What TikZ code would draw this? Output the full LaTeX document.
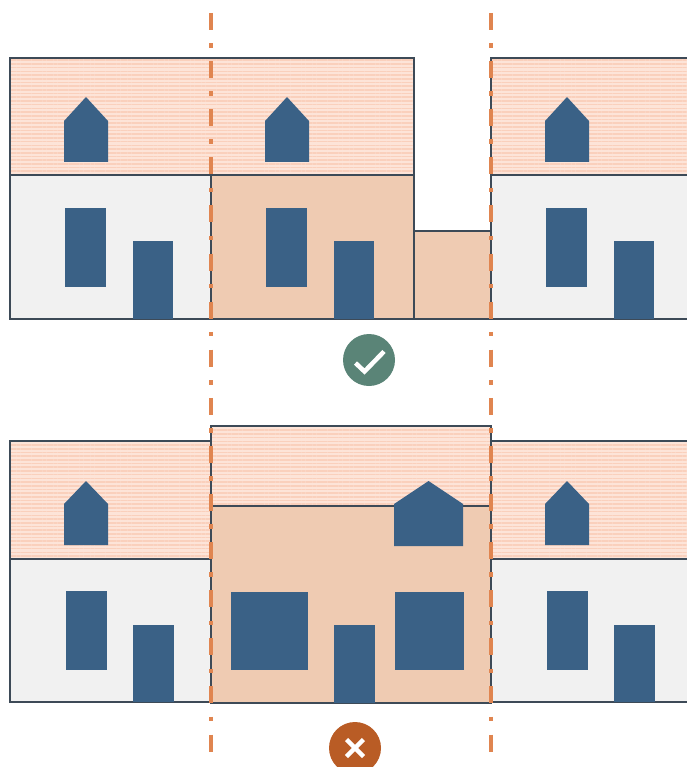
\documentclass[tikz,border=0pt]{standalone}
\usetikzlibrary{patterns.meta}

\definecolor{outline}{HTML}{3D4A57}
\definecolor{slate}{HTML}{3A6186}
\definecolor{wallgrey}{HTML}{F1F1F1}
\definecolor{peach}{HTML}{EFCBB2}
\definecolor{roofpink}{HTML}{FDE4D8}
\definecolor{roofstripe}{HTML}{FAD0BC}
\definecolor{boundary}{HTML}{E08550}
\definecolor{okgreen}{HTML}{5A8477}
\definecolor{badorange}{HTML}{B95C25}

\tikzset{
  roof/.style={pattern={Lines[angle=0,distance=3.7pt,line width=1.6pt]},
    pattern color=roofstripe, preaction={fill=roofpink}},
  wall/.style={fill=wallgrey},
  extension/.style={fill=peach},
  edge/.style={draw=outline, line width=2.2pt},
  opening/.style={fill=slate},
  boundaryline/.style={draw=boundary, line width=4.5pt,
    dash pattern=on 17pt off 13.3pt on 4.5pt off 13.3pt},
  tick/.style={draw=white, line width=4.5pt}
}

% dormer: left x, right x, shoulder y, peak y, bottom y
\newcommand{\dormer}[5]{%
  \fill[opening] (#1,#5) -- (#1,#3) -- ({(#1+#2)/2},#4) -- (#2,#3) -- (#2,#5) -- cycle;}

\begin{document}
\begin{tikzpicture}[x=1pt, y=-1pt]
  \useasboundingbox (0,0) rectangle (686,767);

  % Top row: side extension
  \path[roof] (10,58) rectangle (414,175);
  \path[wall] (10,175) rectangle (211,319);
  \path[extension] (211,175) rectangle (414,319);
  \path[extension] (414,231) rectangle (491,319);
  \path[roof] (491,58) rectangle (700,175);
  \path[wall] (491,175) rectangle (700,319);
  \draw[edge] (10,58) rectangle (414,319);
  \draw[edge] (10,175) -- (414,175);
  \draw[edge] (211,175) -- (211,319);
  \draw[edge] (414,231) rectangle (491,319);
  \draw[edge] (491,58) rectangle (700,319);
  \draw[edge] (491,175) -- (700,175);

  % windows, doors and dormers (top)
  \foreach \x in {0,201,481} {
    \dormer{64+\x}{108+\x}{121}{97}{162}
    \fill[opening] (65+\x,208) rectangle (106+\x,287);
    \fill[opening] (133+\x,241) rectangle (173+\x,319);
  }

  % Bottom row: full-width extension
  \path[roof] (10,441) rectangle (211,559);
  \path[wall] (10,559) rectangle (211,702);
  \path[roof] (211,426) rectangle (491,506);
  \path[extension] (211,506) rectangle (491,703);
  \path[roof] (491,441) rectangle (700,559);
  \path[wall] (491,559) rectangle (700,702);
  \draw[edge] (10,441) rectangle (211,702);
  \draw[edge] (10,559) -- (211,559);
  \draw[edge] (211,426) rectangle (491,703);
  \draw[edge] (211,506) -- (491,506);
  \draw[edge] (491,441) rectangle (700,702);
  \draw[edge] (491,559) -- (700,559);

  % windows, doors and dormers (bottom)
  \foreach \x in {0,481} {
    \dormer{64+\x}{108+\x}{504}{481}{545}
    \fill[opening] (66+\x,591) rectangle (107+\x,670);
    \fill[opening] (133+\x,625) rectangle (174+\x,702);
  }
  \dormer{394}{463}{504}{481}{546}
  \fill[opening] (231,592) rectangle (308,670);
  \fill[opening] (395,592) rectangle (464,670);
  \fill[opening] (334,625) rectangle (375,703);

  % Plot boundaries
  \draw[boundaryline] (211,13) -- (211,752);
  \draw[boundaryline] (491,13) -- (491,752);

  % Verdicts
  \fill[okgreen] (369,360) circle (26);
  \draw[tick] (355.5,363) -- (364.5,371.5) -- (384,351.5);
  \fill[badorange] (355,748) circle (26);
  \draw[tick] (346.5,739.5) -- (363.5,756.5);
  \draw[tick] (346.5,756.5) -- (363.5,739.5);
\end{tikzpicture}
\end{document}
